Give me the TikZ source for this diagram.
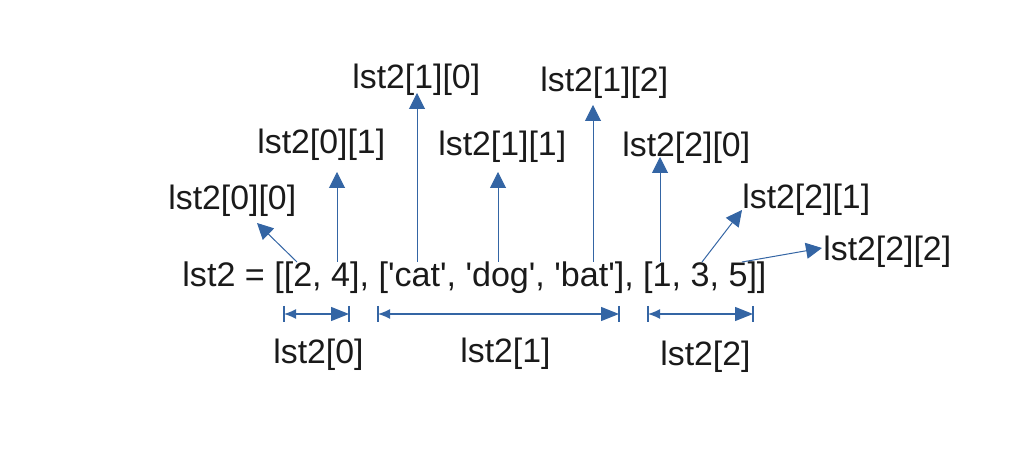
\documentclass[tikz,border=0pt]{standalone}
\usepackage{fontspec}
\setmainfont{Liberation Sans}
\usetikzlibrary{arrows.meta}
\definecolor{lblue}{HTML}{3465A4}
\definecolor{txt}{HTML}{1A1A1A}
\newcommand{\sq}{\textquotesingle}
\begin{document}
\begin{tikzpicture}[x=0.5pt,y=-0.5pt,
  lbl/.style={anchor=base west,inner sep=0pt,text=txt,font=\fontsize{16.9pt}{20pt}\selectfont},
  ptr/.style={draw=lblue,line width=0.5pt,-{Triangle[length=8pt,width=8pt]}},
  dimline/.style={draw=lblue,line width=0.7pt,{Latex[length=6pt,width=5pt]}-{Triangle[length=9pt,width=7pt]}},
  dimbar/.style={draw=lblue,line width=0.7pt}]
\useasboundingbox (0,0) rectangle (1024,453);
% main expression
\node[lbl,font=\fontsize{17.05pt}{20pt}\selectfont] (expr) at (182,287) {lst2 = [[2, 4], [\sq cat\sq, \sq dog\sq, \sq bat\sq], [1, 3, 5]]};
% element labels
\node[lbl] (l00) at (168,210) {lst2[0][0]};
\node[lbl] (l01) at (257,154) {lst2[0][1]};
\node[lbl] (l10) at (352,89) {lst2[1][0]};
\node[lbl] (l11) at (438,156) {lst2[1][1]};
\node[lbl] (l12) at (540,92) {lst2[1][2]};
\node[lbl] (l20) at (622,157) {lst2[2][0]};
\node[lbl] (l21) at (742,209) {lst2[2][1]};
\node[lbl] (l22) at (823,261) {lst2[2][2]};
\node[lbl] (s0) at (273,364) {lst2[0]};
\node[lbl] (s1) at (460,363) {lst2[1]};
\node[lbl] (s2) at (660,366) {lst2[2]};
% pointer start and end points
\coordinate (a00) at (297,262); \coordinate (b00) at (257,223);
\coordinate (a01) at (337,262); \coordinate (b01) at (337,172);
\coordinate (a10) at (417,262); \coordinate (b10) at (417,93);
\coordinate (a11) at (498,262); \coordinate (b11) at (498,172);
\coordinate (a12) at (593,262); \coordinate (b12) at (593,105);
\coordinate (a20) at (660,262); \coordinate (b20) at (660,157);
\coordinate (a21) at (702,262); \coordinate (b21) at (742,210);
\coordinate (a22) at (742,262); \coordinate (b22) at (822,248);
\draw[ptr] (a00) -- (b00);
\draw[ptr] (a01) -- (b01);
\draw[ptr] (a10) -- (b10);
\draw[ptr] (a11) -- (b11);
\draw[ptr] (a12) -- (b12);
\draw[ptr] (a20) -- (b20);
\draw[ptr] (a21) -- (b21);
\draw[ptr] (a22) -- (b22);
% dimension lines
\coordinate (d0l) at (284,314); \coordinate (d0r) at (349,314);
\coordinate (d1l) at (378,314); \coordinate (d1r) at (619,314);
\coordinate (d2l) at (648,314); \coordinate (d2r) at (753,314);
\foreach \p in {d0l,d0r,d1l,d1r,d2l,d2r}{
  \draw[dimbar] ([yshift=4pt]\p) -- ([yshift=-4pt]\p);
}
\draw[dimline] (d0l) -- (d0r);
\draw[dimline] (d1l) -- (d1r);
\draw[dimline] (d2l) -- (d2r);
\end{tikzpicture}
\end{document}
